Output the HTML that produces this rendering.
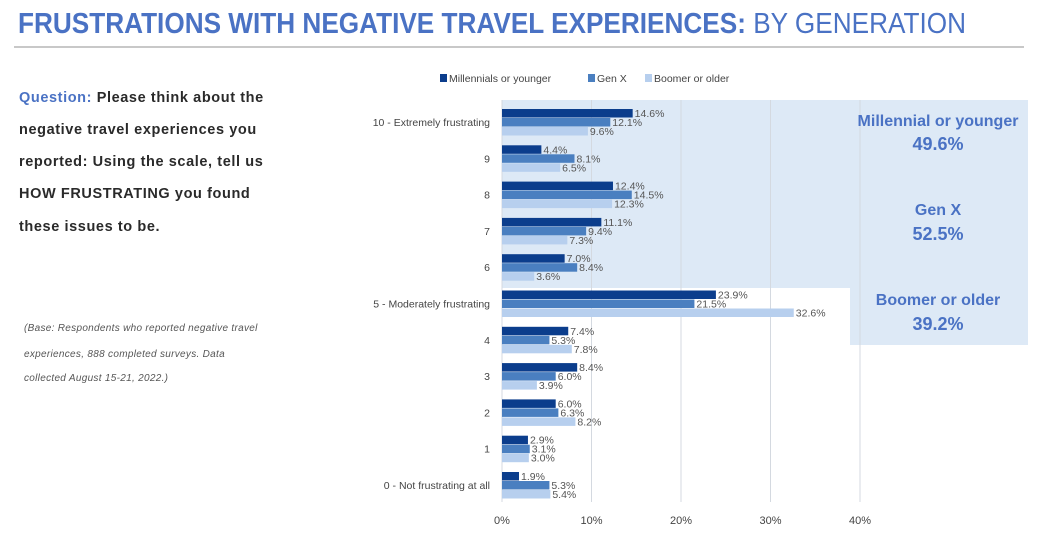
<!DOCTYPE html>
<html><head><meta charset="utf-8"><style>
body{margin:0;width:1037px;height:551px;background:#fff;overflow:hidden;font-family:"Liberation Sans",sans-serif}
svg{display:block}
</style></head><body>
<svg width="1037" height="551" xmlns="http://www.w3.org/2000/svg">
<text x="18" y="33" font-size="29" font-weight="bold" fill="#4a72c4" textLength="948" lengthAdjust="spacingAndGlyphs" font-family="Liberation Sans Narrow, Liberation Sans, sans-serif">FRUSTRATIONS WITH NEGATIVE TRAVEL EXPERIENCES: <tspan font-weight="normal">BY GENERATION</tspan></text>
<rect x="14" y="46" width="1010" height="2" fill="#c8c8c8"/>
<g font-size="14.5" font-weight="bold" fill="#2a2a2a" letter-spacing="0.6">
<text x="19" y="102"><tspan fill="#4a72c4">Question:</tspan> Please think about the</text>
<text x="19" y="134">negative travel experiences you</text>
<text x="19" y="166">reported: Using the scale, tell us</text>
<text x="19" y="198">HOW FRUSTRATING you found</text>
<text x="19" y="231">these issues to be.</text>
</g>
<g font-size="10" font-style="italic" fill="#555" letter-spacing="0.3">
<text x="24" y="331">(Base: Respondents who reported negative travel</text>
<text x="24" y="357">experiences, 888 completed surveys. Data</text>
<text x="24" y="381">collected August 15-21, 2022.)</text>
</g>
<rect x="502" y="100" width="526" height="188" fill="#dde9f6"/>
<rect x="850" y="288" width="178" height="57" fill="#dde9f6"/>
<g id="grid"></g>
<g id="bars"></g>
<g font-weight="bold" fill="#4a72c4" text-anchor="middle">
<text x="938" y="126" font-size="16">Millennial or younger</text>
<text x="938" y="150" font-size="18">49.6%</text>
<text x="938" y="215" font-size="16">Gen X</text>
<text x="938" y="240" font-size="18">52.5%</text>
<text x="938" y="305" font-size="16">Boomer or older</text>
<text x="938" y="330" font-size="18">39.2%</text>
</g>
<g font-size="10.5" fill="#444">
<rect x="440" y="74" width="7" height="8" fill="#0b3d8c"/><text x="449" y="82">Millennials or younger</text>
<rect x="588" y="74" width="7" height="8" fill="#4a7fc0"/><text x="597" y="82">Gen X</text>
<rect x="645" y="74" width="7" height="8" fill="#b7cfee"/><text x="654" y="82">Boomer or older</text>
</g>
</svg>
<script>
const categories=["10 - Extremely frustrating","9","8","7","6","5 - Moderately frustrating","4","3","2","1","0 - Not frustrating at all"];
const millennials=[14.6,4.4,12.4,11.1,7.0,23.9,7.4,8.4,6.0,2.9,1.9];
const genx=[12.1,8.1,14.5,9.4,8.4,21.5,5.3,6.0,6.3,3.1,5.3];
const boomer=[9.6,6.5,12.3,7.3,3.6,32.6,7.8,3.9,8.2,3.0,5.4];
const ticks=[0,10,20,30,40];
const NS="http://www.w3.org/2000/svg";
const x=v=>502+v*8.95;
const yc=i=>122+i*36.3;
function mk(tag,attrs,parent){const e=document.createElementNS(NS,tag);for(const k in attrs)e.setAttribute(k,attrs[k]);parent.appendChild(e);return e;}
const grid=document.getElementById('grid');
ticks.forEach(t=>{
  const l=mk('line',{x1:x(t),x2:x(t),y1:100,y2:502,stroke:'#d4d9e0','stroke-width':1},grid);
  
  
  const tx=mk('text',{x:x(t),y:524,'font-size':11,fill:'#444','text-anchor':'middle'},grid);
  tx.textContent=t+'%';
  
  
});
const bars=document.getElementById('bars');
const series=[[millennials,'#0b3d8c','millennials'],[genx,'#4a7fc0','genx'],[boomer,'#b7cfee','boomer']];
categories.forEach((c,i)=>{
  const lab=mk('text',{x:490,y:yc(i)+4,'font-size':10.5,fill:'#444','text-anchor':'end'},bars);
  lab.textContent=c;
  
  
  series.forEach((s,j)=>{
    const v=s[0][i];
    const top=yc(i)-13+j*9;
    const r=mk('rect',{x:502,y:top,width:x(v)-502,height:8.5,fill:s[1]},bars);
    
    
    const t=mk('text',{x:x(v)+2,y:top+8,'font-size':10.5,fill:'#555'},bars);
    t.textContent=v.toFixed(1)+'%';
    
    
  });
});
</script>
</body></html>
